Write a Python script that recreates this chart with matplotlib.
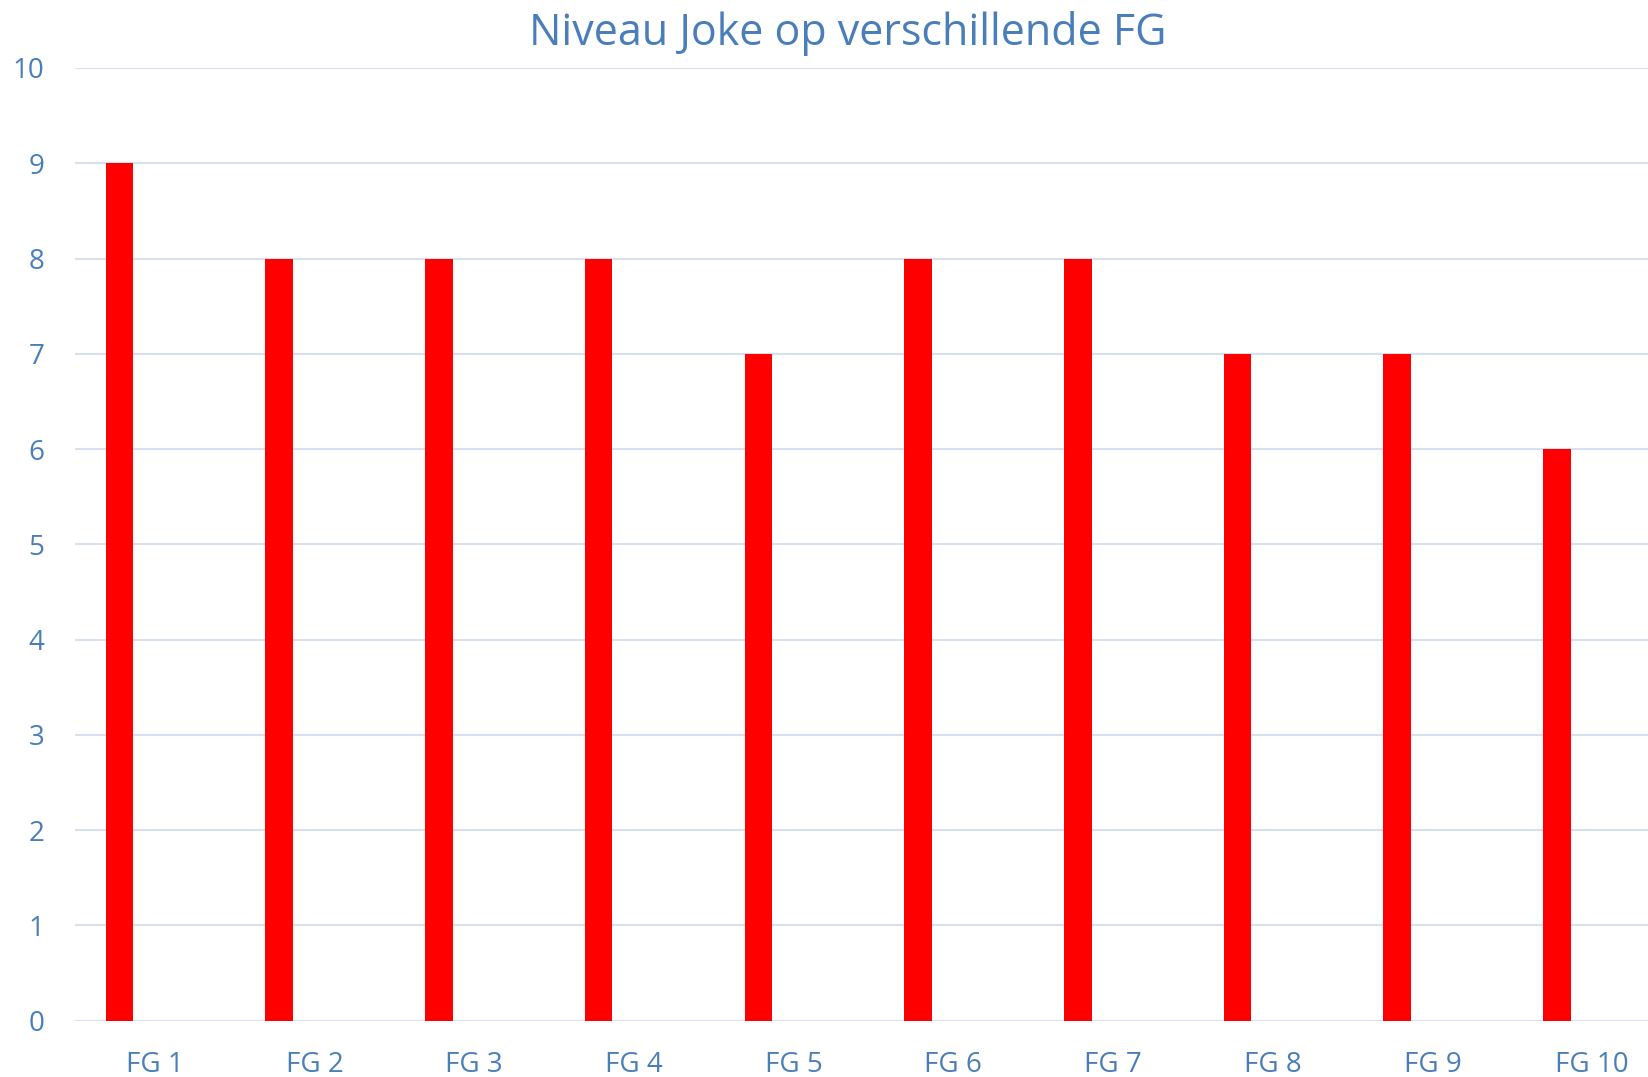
import matplotlib
matplotlib.use("Agg")
import matplotlib.pyplot as plt
import numpy as np

categories = ["FG 1", "FG 2", "FG 3", "FG 4", "FG 5", "FG 6", "FG 7", "FG 8", "FG 9", "FG 10"]
values = [9, 8, 8, 8, 7, 8, 8, 7, 7, 6]
yticks = [0, 1, 2, 3, 4, 5, 6, 7, 8, 9, 10]

W, H = 1649, 1077
fig = plt.figure(figsize=(W / 100, H / 100), dpi=100)
ax = fig.add_axes([75 / W, (H - 1020.7) / H, 1597 / W, (1020.7 - 68) / H])

txt = "#4a7ebb"
grid = "#d6e0f0"
font = "Open Sans"

x = np.arange(len(categories))
ax.bar(x - 0.221, values, width=0.173, color="#ff0000", zorder=3)

ax.set_xlim(-0.5, len(categories) - 0.5)
ax.set_ylim(0, 10)
ax.set_yticks(yticks)
ax.set_yticklabels([str(v) for v in yticks], fontsize=20, color=txt, family=font)
ax.set_xticks(x)
ax.set_xticklabels(categories, fontsize=20, color=txt, family=font)
ax.tick_params(axis="both", length=0)
ax.tick_params(axis="y", pad=22)
ax.tick_params(axis="x", pad=22)
ax.grid(axis="y", color=grid, linewidth=1.5, zorder=0)
for s in ax.spines.values():
    s.set_visible(False)

fig.text(848 / W, 1 - 34 / H, "Niveau Joke op verschillende FG", ha="center", va="center",
         fontsize=31, color=txt, family=font)

fig.savefig("out.png", dpi=100)
